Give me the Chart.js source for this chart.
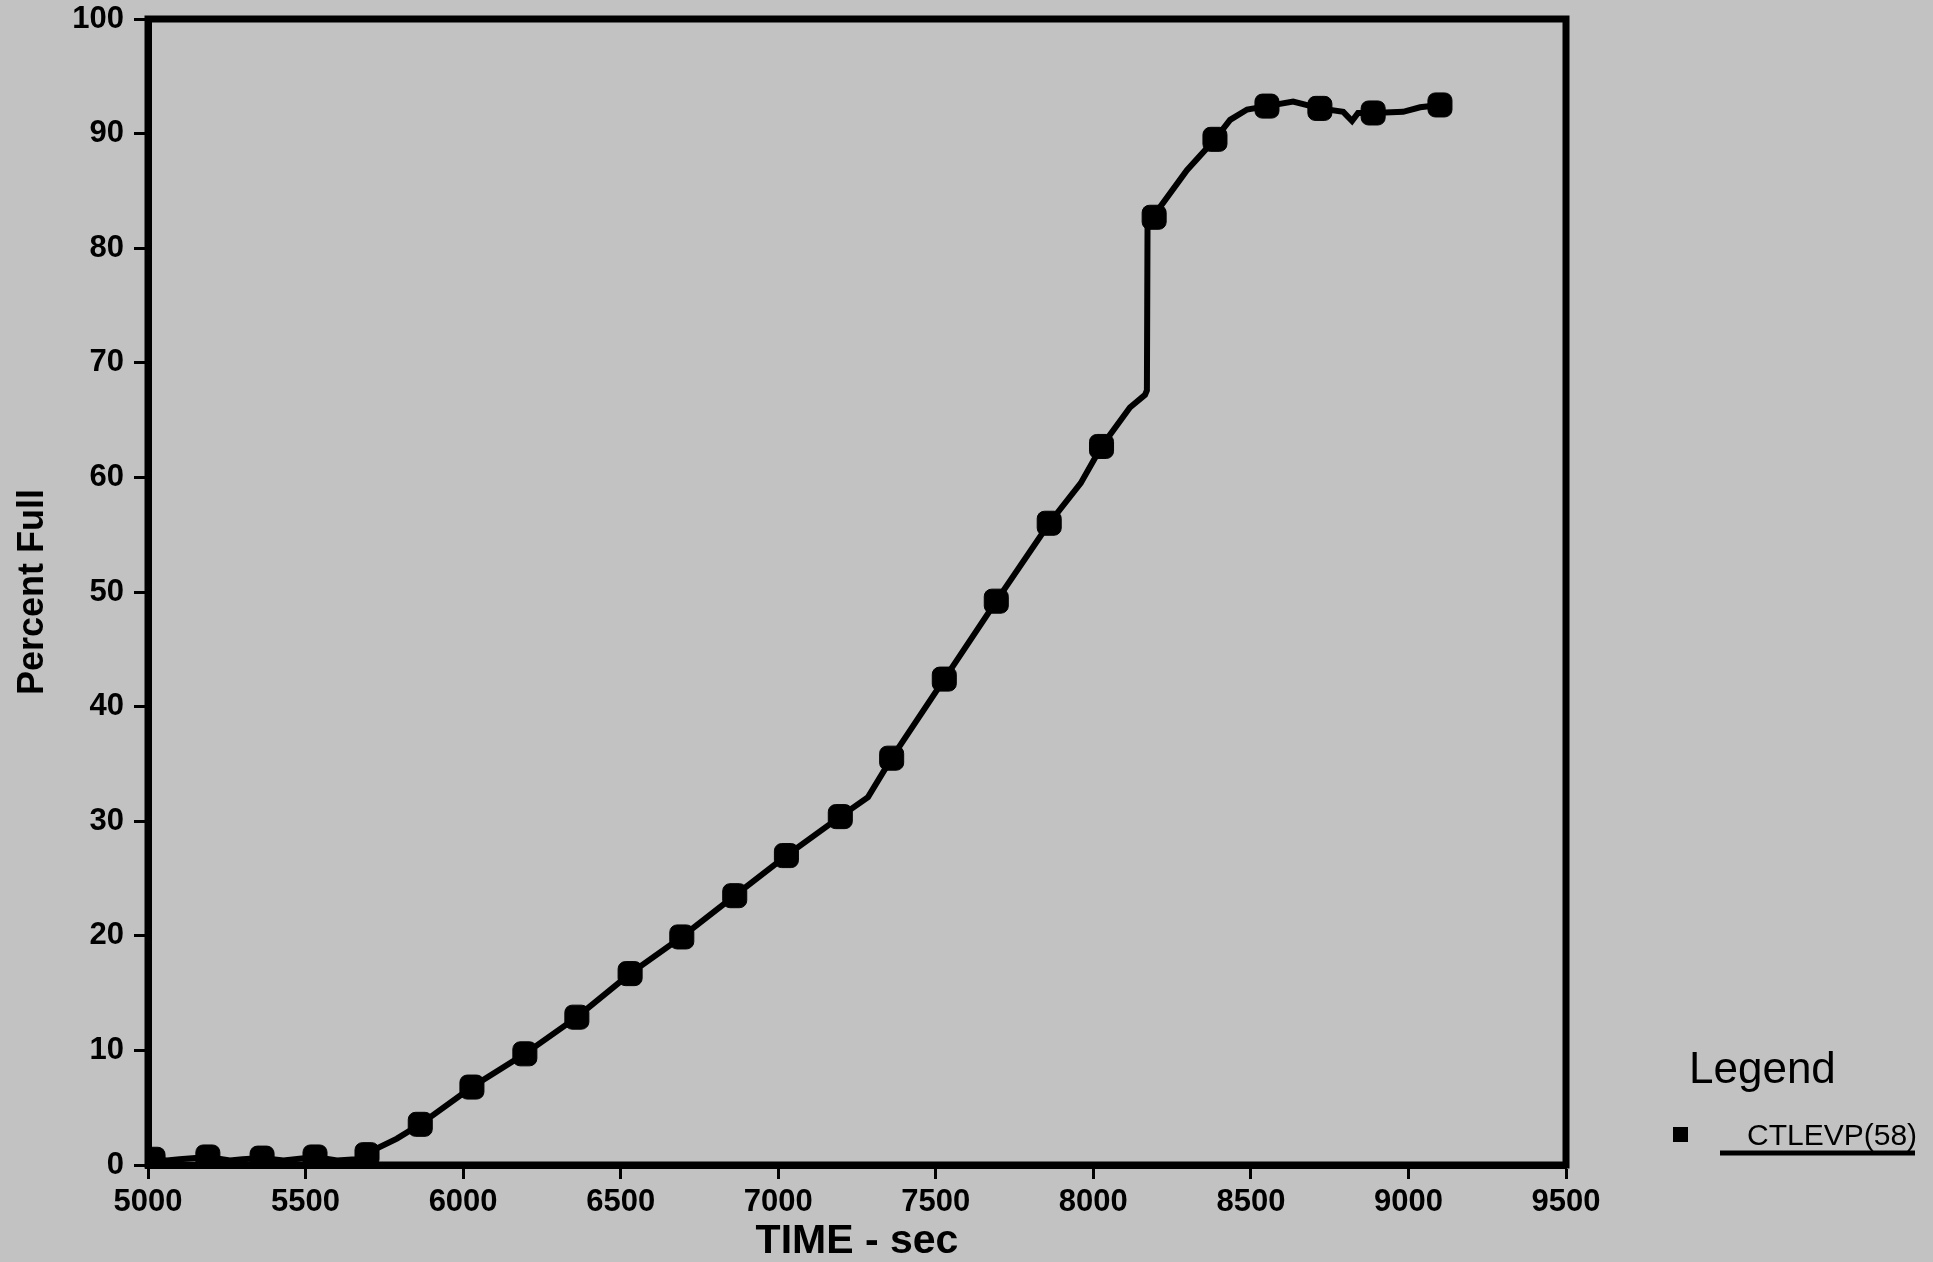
<!DOCTYPE html>
<html>
<head>
<meta charset="utf-8">
<script src="https://cdn.jsdelivr.net/npm/chart.js@4.4.0/dist/chart.umd.min.js"></script>
<style>
  html, body { margin: 0; padding: 0; background: #c2c2c2; }
  #wrap { width: 1933px; height: 1262px; position: relative; }
</style>
</head>
<body>
<div id="wrap"><canvas id="levelChart" width="1933" height="1262"></canvas></div>
<script>
// CTLEVP(58) trace - time in sec, percent full
const traceTime = [5005, 5016, 5060, 5100, 5190, 5260, 5300, 5362, 5430, 5530, 5600, 5660, 5695,
  5730, 5790, 5864, 6028, 6196, 6361, 6530, 6694, 6862, 7026, 7197, 7285, 7360, 7527, 7692,
  7860, 7960, 8026, 8116, 8164, 8170, 8172, 8193, 8212, 8297, 8386, 8434, 8488, 8551, 8634,
  8719, 8793, 8821, 8840, 8888, 8983, 9037, 9100];
const tracePct = [0.8, 0.5, 0.4, 0.5, 0.7, 0.4, 0.5, 0.6, 0.4, 0.7, 0.4, 0.5, 0.9,
  1.5, 2.3, 3.55, 6.8, 9.7, 12.9, 16.7, 19.9, 23.5, 27.0, 30.4, 32.1, 35.5, 42.4, 49.2,
  56.0, 59.5, 62.7, 66.1, 67.2, 67.6, 82.0, 82.7, 83.6, 86.8, 89.5, 91.2, 92.1, 92.4, 92.8,
  92.2, 91.9, 91.1, 91.8, 91.8, 91.9, 92.3, 92.5];

// plotted symbols along the trace
const markerTime = [5016, 5190, 5362, 5530, 5695, 5864, 6028, 6196, 6361, 6530, 6694, 6862,
  7026, 7197, 7360, 7527, 7692, 7860, 8026, 8193, 8386, 8551, 8719, 8888, 9100];
const markerPct = [0.5, 0.7, 0.6, 0.7, 0.9, 3.55, 6.8, 9.7, 12.9, 16.7, 19.9, 23.5,
  27.0, 30.4, 35.5, 42.4, 49.2, 56.0, 62.7, 82.7, 89.5, 92.4, 92.2, 91.8, 92.5];

const xTicks = [5000, 5500, 6000, 6500, 7000, 7500, 8000, 8500, 9000, 9500];
const yTicks = [0, 10, 20, 30, 40, 50, 60, 70, 80, 90, 100];
const seriesName = 'CTLEVP(58)';

const FONT = "'Liberation Sans', Arial, sans-serif";

// box round the plot area
const framePlugin = {
  id: 'frame',
  beforeDatasetsDraw(chart) {
    const { ctx, chartArea: a } = chart;
    ctx.save();
    ctx.strokeStyle = '#000';
    ctx.lineWidth = 7;
    ctx.strokeRect(a.left, a.top, a.right - a.left, a.bottom - a.top);
    ctx.restore();
  }
};

// legend drawn to the right of the plot
const legendPlugin = {
  id: 'sideLegend',
  afterDraw(chart) {
    const ctx = chart.ctx;
    ctx.save();
    ctx.fillStyle = '#000';
    ctx.textBaseline = 'alphabetic';
    ctx.font = '44px ' + FONT;
    ctx.fillText('Legend', 1689, 1083);
    ctx.fillRect(1673, 1127, 15, 15);
    ctx.font = '30px ' + FONT;
    ctx.fillText(seriesName, 1747, 1145);
    ctx.lineWidth = 5;
    ctx.beginPath();
    ctx.moveTo(1720, 1153);
    ctx.lineTo(1915, 1153);
    ctx.stroke();
    ctx.restore();
  }
};

const tickFont = { family: FONT, size: 31, weight: 'bold' };

new Chart(document.getElementById('levelChart'), {
  type: 'line',
  data: {
    datasets: [
      {
        label: seriesName,
        data: traceTime.map((t, i) => ({ x: t, y: tracePct[i] })),
        borderColor: '#000',
        borderWidth: 6,
        pointRadius: 0,
        tension: 0,
        fill: false
      },
      {
        label: seriesName + ' symbols',
        data: markerTime.map((t, i) => ({ x: t, y: markerPct[i] })),
        showLine: false,
        pointStyle: 'rectRounded',
        pointRadius: 14,
        backgroundColor: '#000',
        borderColor: '#000',
        borderWidth: 1
      }
    ]
  },
  options: {
    responsive: false,
    animation: false,
    devicePixelRatio: 1,
    layout: { padding: { top: 19, right: 367, left: 0, bottom: 0 } },
    plugins: {
      legend: { display: false },
      tooltip: { enabled: false }
    },
    scales: {
      x: {
        type: 'linear',
        min: 5000,
        max: 9500,
        afterFit(scale) { scale.height = 97; },
        afterBuildTicks(scale) { scale.ticks = xTicks.map(v => ({ value: v })); },
        ticks: {
          color: '#000', font: tickFont, padding: 5, autoSkip: false, maxRotation: 0,
          callback: v => String(v)
        },
        grid: { drawOnChartArea: false, tickLength: 14, tickWidth: 3, tickColor: '#000' },
        border: { display: true, color: '#000', width: 7 },
        title: {
          display: true,
          text: 'TIME - sec',
          color: '#000',
          font: { family: FONT, size: 41, weight: 'bold', lineHeight: 1 },
          padding: { top: 0, bottom: 0 }
        }
      },
      y: {
        min: 0,
        max: 100,
        afterFit(scale) {
          scale.width = 148;
          scale.paddingTop = 0;
          scale.paddingBottom = 0;
        },
        afterBuildTicks(scale) { scale.ticks = yTicks.map(v => ({ value: v })); },
        ticks: { color: '#000', font: tickFont, padding: 10, callback: v => String(v) },
        grid: { drawOnChartArea: false, tickLength: 14, tickWidth: 3, tickColor: '#000' },
        border: { display: true, color: '#000', width: 7 },
        title: {
          display: true,
          text: 'Percent Full',
          color: '#000',
          font: { family: FONT, size: 36, weight: 'bold' },
          padding: { top: 11, bottom: 0 }
        }
      }
    }
  },
  plugins: [framePlugin, legendPlugin]
});
</script>
</body>
</html>
